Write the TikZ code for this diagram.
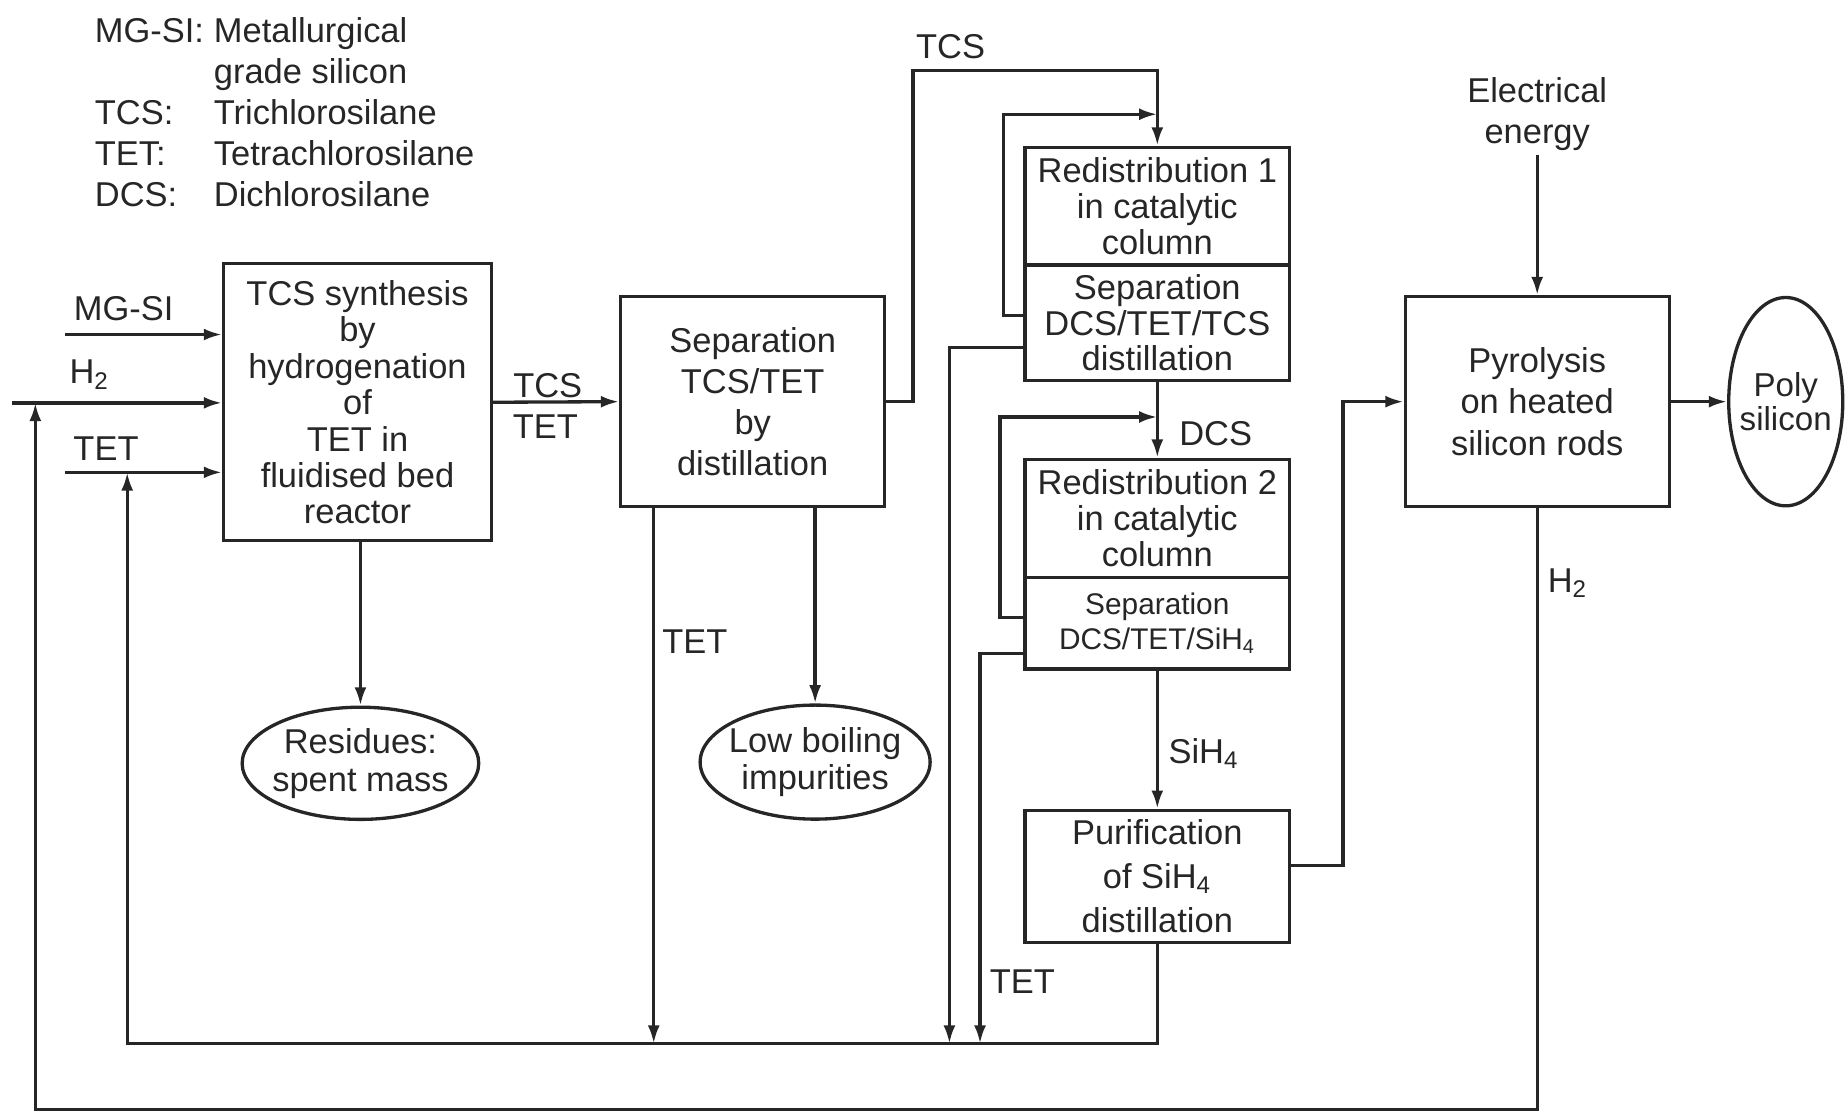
\documentclass[tikz,border=0pt]{standalone}
\usepackage{fontspec}
\setmainfont{Liberation Sans}
\usepackage{tikz}
\usetikzlibrary{arrows.meta}
\usetikzlibrary{shapes.geometric}

\tikzset{
  unit/.style={draw, line width=1pt, align=center, inner sep=0pt, minimum width=2.81cm},
  blob/.style={draw, ellipse, line width=1pt, align=center, inner xsep=-2pt, inner ysep=0pt},
  flow/.style={line width=1pt, -{Latex[length=5.5pt,width=3.6pt]}},
  tag/.style={inner sep=1pt, align=center}
}

\begin{document}
\begin{tikzpicture}[x=0.0125cm, y=-0.0125cm, color=black!85, font=\fontsize{10.4}{12.4}\selectfont]
\useasboundingbox (0,0) rectangle (1568,946);

% legend
\node[anchor=north west, inner sep=0pt] (legend) at (80,11) {\begin{tabular}{@{}l@{\hspace{3pt}}l@{}}
MG-SI: & Metallurgical\\
 & grade silicon\\
TCS: & Trichlorosilane\\
TET: & Tetrachlorosilane\\
DCS: & Dichlorosilane
\end{tabular}};

% process units
\node[unit, minimum width=2.84cm, minimum height=2.94cm, font=\fontsize{10.4}{11}\selectfont] (syn) at (303.5,341.5) {TCS synthesis\\by\\hydrogenation\\of\\TET in\\fluidised bed\\reactor};
\node[unit, minimum width=2.8cm, minimum height=2.225cm] (sep) at (639,341) {Separation\\TCS/TET\\by\\distillation};
\node[unit, minimum height=1.25cm, font=\fontsize{10.4}{10.8}\selectfont] (red1) at (982.5,175) {Redistribution 1\\in catalytic\\column};
\node[unit, minimum height=1.225cm, font=\fontsize{10.4}{10.8}\selectfont] (sep1) at (982.5,274) {Separation\\DCS/TET/TCS\\distillation};
\node[unit, minimum height=1.25cm, font=\fontsize{10.4}{10.8}\selectfont] (red2) at (982.5,440) {Redistribution 2\\in catalytic\\column};
\node[unit, minimum height=0.975cm, font=\fontsize{9}{10.5}\selectfont] (sep2) at (982.5,529) {Separation\\DCS/TET/SiH\textsubscript{4}};
\node[unit, minimum height=1.4cm, font=\fontsize{10.4}{13.3}\selectfont] (pur) at (982.5,744) {Purification\\of SiH\textsubscript{4}\\distillation};
\node[unit, minimum width=2.8cm, minimum height=2.225cm] (pyr) at (1305,341) {Pyrolysis\\on heated\\silicon rods};
\node[blob, minimum width=1.21cm, minimum height=2.21cm, font=\fontsize{10}{10.3}\selectfont] (poly) at (1516,341) {Poly\\silicon};
\node[blob, minimum width=2.51cm, minimum height=1.19cm, font=\fontsize{10.4}{11.4}\selectfont] (res) at (306,648) {Residues:\\spent mass};
\node[blob, minimum width=2.44cm, minimum height=1.21cm, font=\fontsize{10.4}{11.4}\selectfont] (lowb) at (692,647) {Low boiling\\impurities};

% stream labels
\node[tag] (lmg) at (105,262) {MG-SI};
\node[tag] (lh2) at (76,318) {H\textsubscript{2}};
\node[tag] (ltet) at (90,381) {TET};
\node[tag] (ltcs1) at (465,327) {TCS};
\node[tag] (ltet1) at (463,362) {TET};
\node[tag] (ltcs2) at (807,40) {TCS};
\node[tag] (ldcs) at (1032,368) {DCS};
\node[tag] (lsih) at (1022,640) {SiH\textsubscript{4}};
\node[tag] (ltet2) at (590,545) {TET};
\node[tag] (ltet3) at (868,833) {TET};
\node[tag] (lh2b) at (1331,495) {H\textsubscript{2}};
\node[tag] (elec) at (1305,97) {Electrical\\energy};

% free ends and bends
\coordinate (mg) at (55,284);
\coordinate (hin) at (10,342);
\coordinate (tin) at (55,401);
\coordinate (tcsup) at (775,60);
\coordinate (lp1) at (852,268);
\coordinate (lp1t) at (852,97);
\coordinate (tet1) at (806,295);
\coordinate (lp2) at (849,524);
\coordinate (lp2t) at (849,354);
\coordinate (tet2) at (832,555);
\coordinate (tet0) at (555,430);
\coordinate (riser) at (1140,735);
\coordinate (recl) at (108,886);
\coordinate (outl) at (30,942);

\draw[flow] (mg) -- (mg -| syn.west);
\draw[flow] (hin) -- (hin -| syn.west);
\draw[flow] (tin) -- (tin -| syn.west);
\draw[flow] (syn.east) -- (sep.west);
\draw[flow] (sep.east) -| (tcsup) -| (red1.north);
\draw[flow] (lp1 -| sep1.west) -- (lp1) |- (lp1t -| red1.north);
\draw[flow] (tet1 -| sep1.west) -| (tet1 |- recl);
\draw[flow] (sep1.south) -- (red2.north);
\draw[flow] (lp2 -| sep2.west) -- (lp2) |- (lp2t -| red2.north);
\draw[flow] (tet2 -| sep2.west) -| (tet2 |- recl);
\draw[flow] (sep2.south) -- (pur.north);
\draw[flow] (pur.east |- riser) -| (riser |- pyr.west) -- (pyr.west);
\draw[flow] (elec.south) -- (pyr.north);
\draw[flow] (pyr.east) -- (poly.west);
\draw[flow] (pyr.south) |- (outl) -- (outl |- hin);
\draw[flow] (syn.south -| res.north) -- (res.north);
\draw[flow] (sep.south -| lowb.north) -- (lowb.north);
\draw[flow] (sep.south -| tet0) -- (tet0 |- recl);
\draw[flow] (pur.south) |- (recl) -- (recl |- tin);
\end{tikzpicture}
\end{document}
